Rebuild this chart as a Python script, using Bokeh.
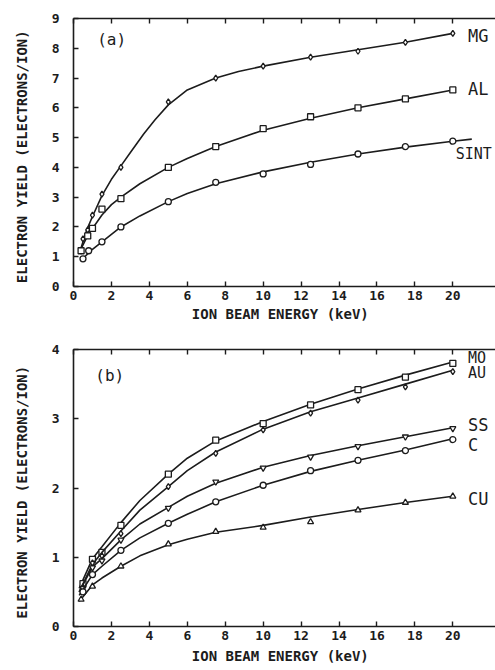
from bokeh.plotting import figure
from bokeh.models import Range1d, LinearAxis, SingleIntervalTicker, FixedTicker, Label
from bokeh.layouts import column
from bokeh.embed import file_html
from bokeh.resources import INLINE

FONT = "DejaVu Sans Mono"
INK = "#1c1c1c"

# ---------------- axis ticks ----------------
x_ticks = [0, 2, 4, 6, 8, 10, 12, 14, 16, 18, 20]

# ---------------- panel (a) data ----------------
mg_x = [0.4, 0.5, 0.75, 1.0, 1.5, 2.5, 5, 7.5, 10, 12.5, 15, 17.5, 20]
mg_y = [1.2, 1.6, 1.9, 2.4, 3.1, 4.0, 6.2, 7.0, 7.4, 7.7, 7.9, 8.2, 8.5]
al_x = [0.4, 0.75, 1.0, 1.5, 2.5, 5, 7.5, 10, 12.5, 15, 17.5, 20]
al_y = [1.2, 1.7, 1.95, 2.6, 2.95, 4.0, 4.7, 5.3, 5.7, 6.0, 6.3, 6.6]
sint_x = [0.5, 0.8, 1.5, 2.5, 5, 7.5, 10, 12.5, 15, 17.5, 20]
sint_y = [0.93, 1.2, 1.5, 2.0, 2.85, 3.5, 3.78, 4.1, 4.45, 4.7, 4.88]

# fitted curves
mg_fit_x = [0.35, 0.7, 1.0, 1.5, 2.0, 2.5, 3.0, 3.7, 4.3, 5.0, 6.0, 7.5, 8.7, 10, 12.5, 15, 17.5, 20]
mg_fit_y = [1.2, 1.9, 2.35, 3.05, 3.6, 4.05, 4.5, 5.12, 5.6, 6.1, 6.6, 7.0, 7.22, 7.4, 7.7, 7.95, 8.2, 8.5]
al_fit_x = [0.35, 0.7, 1.0, 1.5, 2.0, 2.5, 3.5, 5, 6, 7.5, 10, 12.5, 15, 17.5, 20]
al_fit_y = [1.2, 1.65, 1.95, 2.4, 2.75, 3.0, 3.45, 4.0, 4.3, 4.7, 5.25, 5.65, 6.0, 6.3, 6.6]
sint_fit_x = [0.4, 1.0, 1.5, 2.5, 3.5, 5, 6, 7.5, 10, 12.5, 15, 17.5, 20, 21]
sint_fit_y = [0.88, 1.25, 1.5, 2.0, 2.37, 2.85, 3.12, 3.45, 3.85, 4.17, 4.45, 4.68, 4.88, 4.95]

# ---------------- panel (b) data ----------------
mo_x = [0.5, 1, 1.5, 2.5, 5, 7.5, 10, 12.5, 15, 17.5, 20]
mo_y = [0.62, 0.97, 1.07, 1.46, 2.2, 2.69, 2.93, 3.2, 3.42, 3.6, 3.8]
au_x = [0.5, 1, 1.5, 2.5, 5, 7.5, 10, 12.5, 15, 17.5, 20]
au_y = [0.57, 0.92, 1.02, 1.34, 2.02, 2.5, 2.84, 3.08, 3.27, 3.46, 3.68]
ss_x = [0.5, 1, 1.5, 2.5, 5, 7.5, 10, 12.5, 15, 17.5, 20]
ss_y = [0.55, 0.85, 0.95, 1.25, 1.71, 2.09, 2.29, 2.45, 2.6, 2.74, 2.86]
c_x = [0.5, 1, 2.5, 5, 7.5, 10, 12.5, 15, 17.5, 20]
c_y = [0.5, 0.75, 1.1, 1.49, 1.8, 2.04, 2.25, 2.4, 2.54, 2.7]
cu_x = [0.4, 1, 2.5, 5, 7.5, 10, 12.5, 15, 17.5, 20]
cu_y = [0.39, 0.58, 0.87, 1.19, 1.37, 1.43, 1.51, 1.68, 1.79, 1.88]

fit_b_x = [0.3, 1, 1.5, 2.5, 3.5, 5, 6, 7.5, 10, 12.5, 15, 17.5, 20]
mo_fit_y = [0.55, 0.98, 1.15, 1.5, 1.82, 2.2, 2.43, 2.68, 2.96, 3.21, 3.43, 3.63, 3.82]
au_fit_y = [0.5, 0.9, 1.07, 1.38, 1.68, 2.02, 2.25, 2.52, 2.85, 3.1, 3.3, 3.5, 3.7]
ss_fit_y = [0.5, 0.86, 0.98, 1.25, 1.48, 1.72, 1.88, 2.07, 2.3, 2.47, 2.61, 2.74, 2.87]
c_fit_y = [0.45, 0.75, 0.87, 1.1, 1.28, 1.49, 1.62, 1.8, 2.04, 2.24, 2.4, 2.55, 2.71]
cu_fit_y = [0.36, 0.6, 0.7, 0.87, 1.02, 1.18, 1.26, 1.36, 1.46, 1.58, 1.69, 1.79, 1.88]

X_TITLE = "ION BEAM ENERGY  (keV)"
Y_TITLE = "ELECTRON YIELD  (ELECTRONS/ION)"


def make_panel(height, top, bottom, y_end, y_minor, title_standoff):
    p = figure(width=495, height=height, output_backend="svg", toolbar_location=None,
               x_range=Range1d(0, 22.25), y_range=Range1d(0, y_end),
               min_border_left=73, min_border_right=0,
               min_border_top=top, min_border_bottom=bottom)
    p.outline_line_color = None
    p.grid.visible = False
    p.background_fill_color = "white"
    p.border_fill_color = "white"

    xa = p.xaxis[0]
    xa.ticker = FixedTicker(ticks=x_ticks)
    ya = p.yaxis[0]
    ya.ticker = SingleIntervalTicker(interval=1, num_minor_ticks=y_minor)

    for ax in (xa, ya):
        ax.axis_line_color = INK
        ax.axis_line_width = 1.6
        ax.major_tick_line_color = INK
        ax.major_tick_line_width = 1.4
        ax.major_tick_in = 5
        ax.major_tick_out = 0
        ax.minor_tick_line_color = INK
        ax.minor_tick_in = 3
        ax.minor_tick_out = 0
        ax.major_label_text_font = FONT
        ax.major_label_text_font_size = "13px"
        ax.major_label_text_font_style = "bold"
        ax.major_label_text_color = INK
        ax.axis_label_text_font = FONT
        ax.axis_label_text_font_size = "14px"
        ax.axis_label_text_font_style = "bold"
        ax.axis_label_text_color = INK
    xa.minor_tick_line_color = None
    xa.axis_label = X_TITLE
    xa.major_label_standoff = 4
    xa.axis_label_standoff = title_standoff
    ya.axis_label = Y_TITLE
    ya.major_label_standoff = 14
    ya.axis_label_standoff = 19

    # top frame edge: ticks only (minor ticks carry no labels)
    top_ax = LinearAxis(ticker=FixedTicker(ticks=[], minor_ticks=x_ticks))
    top_ax.axis_line_color = INK
    top_ax.axis_line_width = 1.6
    top_ax.major_tick_line_color = None
    top_ax.minor_tick_line_color = INK
    top_ax.minor_tick_line_width = 1.4
    top_ax.minor_tick_in = 5
    top_ax.minor_tick_out = 0
    top_ax.major_label_standoff = 0
    p.add_layout(top_ax, "above")
    return p


def series(p, fx, fy, x, y, marker):
    p.line(fx, fy, line_color=INK, line_width=1.6)
    p.scatter(x, y, marker=marker, size=6, line_color=INK, fill_color="white", line_width=1.3)


def tag(p, x, y, text, size="17px"):
    p.add_layout(Label(x=x, y=y, text=text, text_font=FONT, text_font_size=size,
                       text_color=INK, text_baseline="middle", text_align="left"))


pa = make_panel(330, 18, 44, 9, 0, 3)
series(pa, mg_fit_x, mg_fit_y, mg_x, mg_y, "diamond")
series(pa, al_fit_x, al_fit_y, al_x, al_y, "square")
series(pa, sint_fit_x, sint_fit_y, sint_x, sint_y, "circle")
tag(pa, 20.8, 8.42, "MG")
tag(pa, 20.8, 6.63, "AL")
tag(pa, 20.15, 4.45, "SINT", "15px")
tag(pa, 1.25, 8.3, "(a)", "16px")

pb = make_panel(338, 19, 42, 4, 1, 5)
series(pb, fit_b_x, mo_fit_y, mo_x, mo_y, "square")
series(pb, fit_b_x, au_fit_y, au_x, au_y, "diamond")
series(pb, fit_b_x, ss_fit_y, ss_x, ss_y, "inverted_triangle")
series(pb, fit_b_x, c_fit_y, c_x, c_y, "circle")
series(pb, fit_b_x, cu_fit_y, cu_x, cu_y, "triangle")
tag(pb, 20.8, 3.88, "MO", "15px")
tag(pb, 20.8, 3.66, "AU", "15px")
tag(pb, 20.8, 2.91, "SS")
tag(pb, 20.8, 2.62, "C")
tag(pb, 20.8, 1.84, "CU")
tag(pb, 1.15, 3.62, "(b)", "16px")

layout = column(pa, pb, spacing=0)
open("out.html", "w").write(file_html(layout, INLINE))
